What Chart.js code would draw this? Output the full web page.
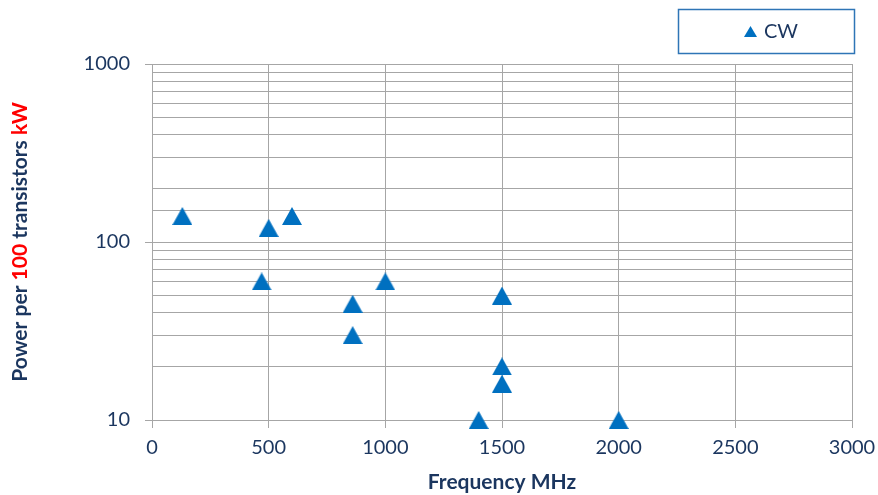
<!DOCTYPE html>
<html>
<head>
<meta charset="utf-8">
<script src="https://cdn.jsdelivr.net/npm/chart.js@4/dist/chart.umd.min.js"></script>
<style>
  html, body { margin: 0; padding: 0; background: #fff; }
  #wrap { width: 878px; height: 495px; }
</style>
</head>
<body>
<div id="wrap"><canvas id="myChart" width="878" height="495"></canvas></div>
<script>
// data
const seriesLabel = 'CW';
const freqMHz = [130, 470, 500, 600, 860, 860, 1000, 1400, 1500, 1500, 1500, 2000];
const powerKW = [140, 60, 120, 140, 45, 30, 60, 10, 50, 20, 16, 10];
const xTicks = [0, 500, 1000, 1500, 2000, 2500, 3000];
const yTitleParts = [['Power per ', 'navy'], ['100', 'red'], [' transistors ', 'navy'], ['kW', 'red']];
const xTitle = 'Frequency MHz';

const NAVY = '#1b365f';
const RED = '#ff0000';
const BLUE = '#0070c0';
const GRID = '#a6a6a6';
const FONT = 'Lato, "Open Sans", sans-serif';

// triangle marker, centred on its bounding box like the office chart
function makeTriangle(w, h) {
  const c = document.createElement('canvas');
  c.width = w; c.height = h;
  const g = c.getContext('2d');
  g.fillStyle = BLUE;
  g.beginPath();
  g.moveTo(w / 2, 0);
  g.lineTo(w, h);
  g.lineTo(0, h);
  g.closePath();
  g.fill();
  return c;
}
const markerBig = makeTriangle(20, 18);
const markerSmall = makeTriangle(13, 11);

const points = freqMHz.map((f, i) => ({x: f, y: powerKW[i]}));

// y title with two colours + boxed legend
const extras = {
  id: 'extras',
  afterDraw(chart) {
    const {ctx, chartArea} = chart;
    ctx.save();
    // y axis title, rotated
    ctx.font = 'bold 21px ' + FONT;
    const total = yTitleParts.reduce((s, p) => s + ctx.measureText(p[0]).width, 0);
    const cy = (chartArea.top + chartArea.bottom) / 2;
    ctx.translate(20, cy);
    ctx.rotate(-Math.PI / 2);
    ctx.textBaseline = 'middle';
    ctx.textAlign = 'left';
    let px = -total / 2;
    yTitleParts.forEach(p => {
      ctx.fillStyle = p[1] === 'red' ? RED : NAVY;
      ctx.fillText(p[0], px, 0);
      px += ctx.measureText(p[0]).width;
    });
    ctx.restore();

    // x axis title
    ctx.save();
    ctx.font = 'bold 21px ' + FONT;
    ctx.fillStyle = NAVY;
    ctx.textAlign = 'center';
    ctx.textBaseline = 'middle';
    ctx.fillText(xTitle, (chartArea.left + chartArea.right) / 2, 482);
    ctx.restore();

    // legend box
    ctx.save();
    ctx.strokeStyle = '#2e75b6';
    ctx.lineWidth = 1.5;
    ctx.strokeRect(678.5, 9.5, 176, 44);
    ctx.drawImage(markerSmall, 744, 26);
    ctx.font = '20px ' + FONT;
    ctx.fillStyle = NAVY;
    ctx.textBaseline = 'middle';
    ctx.fillText(chart.data.datasets[0].label, 764, 31.5);
    ctx.restore();
  }
};

const config = {
  type: 'scatter',
  data: {
    datasets: [{
      label: seriesLabel,
      data: points,
      pointStyle: markerBig,
      pointRadius: 10,
      pointHoverRadius: 10,
      clip: false
    }]
  },
  options: {
    responsive: false,
    animation: false,
    layout: { padding: { top: 64, right: 26, left: 0, bottom: 0 } },
    plugins: { legend: { display: false }, tooltip: { enabled: false } },
    scales: {
      x: {
        type: 'linear',
        min: 0,
        max: 3000,
        afterFit(scale) { scale.height = 75; scale.paddingRight = 0; scale.paddingLeft = 0; },
        afterBuildTicks(scale) { scale.ticks = xTicks.map(v => ({value: v})); },
        ticks: {
          color: NAVY, font: { family: FONT, size: 20 }, padding: 8, maxRotation: 0,
          callback: (v) => String(v)
        },
        grid: { color: GRID, tickLength: 8, tickColor: GRID, lineWidth: 1 },
        border: { color: GRID }
      },
      y: {
        type: 'logarithmic',
        min: 10,
        max: 1000,
        afterFit(scale) { scale.width = 152; scale.paddingTop = 0; scale.paddingBottom = 0; },
        ticks: {
          autoSkip: false,
          color: NAVY,
          font: { family: FONT, size: 20 },
          padding: 15,
          callback: (v) => {
            const l = Math.log10(v);
            return Math.abs(l - Math.round(l)) < 1e-9 ? String(v) : '';
          }
        },
        grid: {
          color: GRID,
          tickLength: 7,
          tickColor: (c) => {
            const l = Math.log10(c.tick.value);
            return Math.abs(l - Math.round(l)) < 1e-9 ? GRID : 'rgba(0,0,0,0)';
          }
        },
        border: { color: GRID }
      }
    }
  },
  plugins: [extras]
};

new Chart(document.getElementById('myChart').getContext('2d'), config);
</script>
</body>
</html>
